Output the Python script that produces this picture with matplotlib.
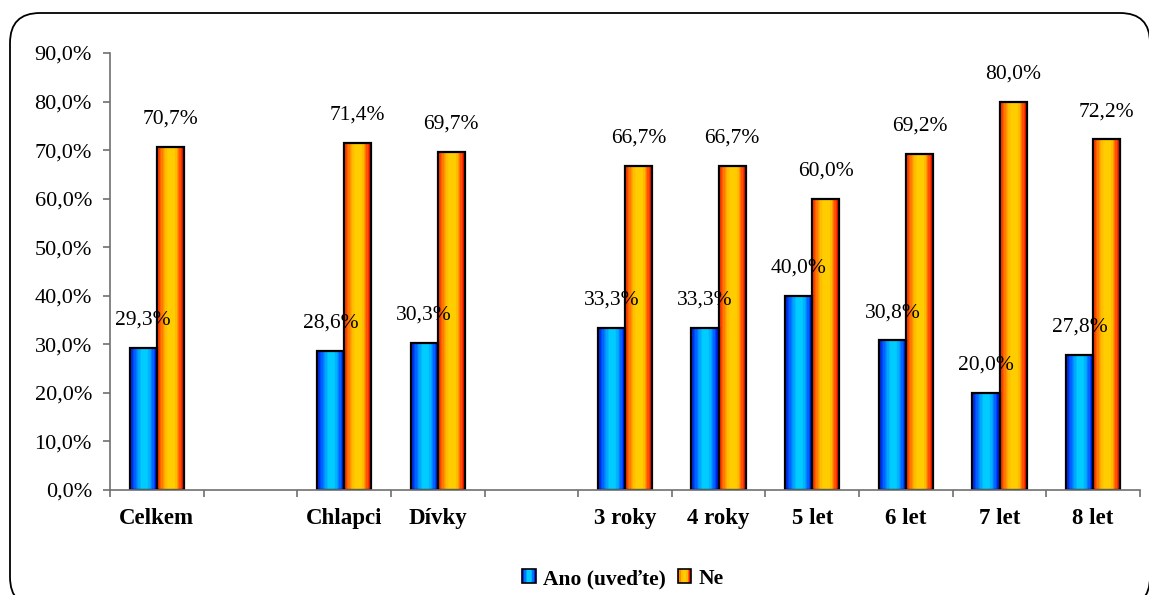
import numpy as np
import matplotlib
matplotlib.use("Agg")
import matplotlib.pyplot as plt
from matplotlib.colors import LinearSegmentedColormap
from matplotlib.patches import Rectangle, FancyBboxPatch
from matplotlib.transforms import IdentityTransform
from matplotlib.legend_handler import HandlerBase

# ---- data -------------------------------------------------------------
categories = ["Celkem", "", "Chlapci", "Dívky", "", "3 roky", "4 roky",
              "5 let", "6 let", "7 let", "8 let"]
ano = [29.3, None, 28.6, 30.3, None, 33.3, 33.3, 40.0, 30.8, 20.0, 27.8]
ne = [70.7, None, 71.4, 69.7, None, 66.7, 66.7, 60.0, 69.2, 80.0, 72.2]
series_names = ["Ano (uveďte)", "Ne"]
y_ticks = [0, 10, 20, 30, 40, 50, 60, 70, 80, 90]

# ---- style ------------------------------------------------------------
plt.rcParams["font.family"] = ["Liberation Serif", "DejaVu Serif"]

blue_cmap = LinearSegmentedColormap.from_list("blue_tube", [
    (0.00, "#0018b0"), (0.08, "#0040ff"), (0.20, "#0078ff"),
    (0.32, "#00aaff"), (0.42, "#00ccff"), (0.62, "#00ccff"),
    (0.74, "#00a0ff"), (0.84, "#0066ff"), (0.93, "#0030ff"),
    (1.00, "#0000c0")])
orange_cmap = LinearSegmentedColormap.from_list("orange_tube", [
    (0.00, "#ff2200"), (0.10, "#ff6000"), (0.22, "#ff9900"),
    (0.32, "#ffc000"), (0.40, "#ffcc00"), (0.66, "#ffcc00"),
    (0.74, "#ff9900"), (0.83, "#ff5a00"), (0.92, "#ff2200"),
    (1.00, "#c00000")])
gradient = np.linspace(0, 1, 20).reshape(1, -1)

W, H, DPI = 1149, 595, 100
fig = plt.figure(figsize=(W / DPI, H / DPI), dpi=DPI)
fig.patch.set_facecolor("white")

# rounded frame around the whole chart (pixel coordinates, origin bottom-left)
frame = FancyBboxPatch((10, -12), 1140, 594,
                       boxstyle="round,pad=0,rounding_size=30",
                       transform=IdentityTransform(), fill=False,
                       edgecolor="black", linewidth=1.3, zorder=0)
fig.patches.append(frame)

ax = fig.add_axes([110 / W, 105 / H, 1030 / W, 437 / H])

x = np.arange(len(categories))
bw = 0.29
label_font = dict(fontsize=15.5, color="black")


def tube_bars(xs, vals, cmap, offset):
    for xi, v in zip(xs, vals):
        if v is None:
            continue
        left = xi + offset - bw / 2
        rect = Rectangle((left, 0), bw, v, facecolor="none",
                         edgecolor="black", linewidth=1.6, zorder=4)
        ax.add_patch(rect)
        img = ax.imshow(gradient, cmap=cmap, aspect="auto",
                        extent=(left, left + bw, 0, v),
                        interpolation="nearest", zorder=3)
        img.set_clip_path(rect)
        ax.annotate(f"{v:.1f}%".replace(".", ","), (xi + offset, v),
                    xytext=(0, 20), textcoords="offset points",
                    ha="center", va="center", zorder=6, **label_font)


tube_bars(x, ano, blue_cmap, -bw / 2)
tube_bars(x, ne, orange_cmap, bw / 2)

ax.set_xlim(-0.5, len(categories) - 0.5)
ax.set_ylim(0, 90)

# axes styling
for side in ("top", "right"):
    ax.spines[side].set_visible(False)
for side in ("left", "bottom"):
    ax.spines[side].set_color("#707070")
    ax.spines[side].set_linewidth(1.2)
    ax.spines[side].set_zorder(5)

ax.set_yticks(y_ticks)
ax.set_yticklabels([f"{t:.1f}%".replace(".", ",") for t in y_ticks],
                   fontsize=16)
ax.tick_params(axis="y", direction="out", length=5, width=1.2,
               color="#707070", pad=8)

ax.set_xticks(x)
ax.set_xticklabels(categories, fontsize=16.5, fontweight="bold")
ax.set_xticks(np.arange(-0.5, len(categories)), minor=True)
ax.tick_params(axis="x", which="major", length=0, pad=13)
ax.tick_params(axis="x", which="minor", direction="out", length=5,
               width=1.2, color="#707070")


# legend with gradient swatches
class TubeHandler(HandlerBase):
    def __init__(self, cmap):
        super().__init__()
        self.cmap = cmap

    def create_artists(self, legend, orig_handle, xdescent, ydescent,
                       width, height, fontsize, trans):
        n = 8
        arts = []
        for i in range(n):
            arts.append(Rectangle((-xdescent + width * i / n, -ydescent),
                                  width / n, height,
                                  facecolor=self.cmap((i + 0.5) / n),
                                  edgecolor="none", transform=trans))
        arts.append(Rectangle((-xdescent, -ydescent), width, height,
                              facecolor="none", edgecolor="black",
                              linewidth=1.2, transform=trans))
        return arts


h_blue = Rectangle((0, 0), 1, 1)
h_orange = Rectangle((0, 0), 1, 1)
fig.legend([h_blue, h_orange], series_names,
           handler_map={h_blue: TubeHandler(blue_cmap),
                        h_orange: TubeHandler(orange_cmap)},
           loc="center", bbox_to_anchor=(623 / W, 1 - 579 / H), ncol=2,
           frameon=False, prop=dict(size=15.5, weight="bold"),
           handlelength=0.62, handleheight=0.62, handletextpad=0.35,
           columnspacing=0.55, borderpad=0)

fig.savefig("out.png", dpi=DPI, facecolor="white")
